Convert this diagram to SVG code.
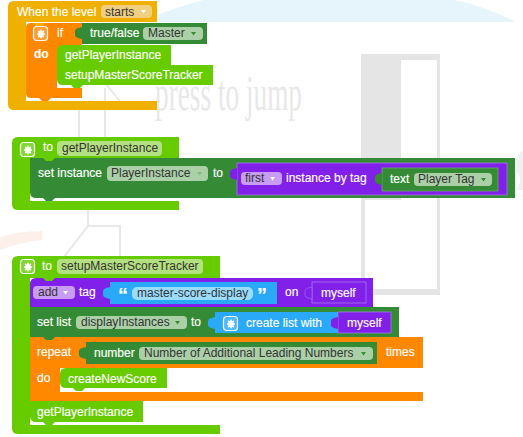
<svg xmlns="http://www.w3.org/2000/svg" width="523" height="437" viewBox="0 0 523 437">
<style>
text{font-family:"Liberation Sans",Arial,sans-serif;font-size:12px;fill:#fff;stroke:#fff;stroke-width:.15}
.d{fill:#333;stroke:none}
.fy{fill:#f0cf80}.fg{fill:#b3e080}.fd{fill:#abd0a8}.fp{fill:#c89cf2}.fb{fill:#99dcff}
.y{fill:#f0b000}.o{fill:#ff8800}.g{fill:#66cc00}.n{fill:#358b35}.p{fill:#8020e8}.b{fill:#29a9f8}
.n2{fill:#358b35;stroke:#6aa86a;stroke-width:.8}.p2{fill:#8020e8;stroke:#a678ea;stroke-width:.8}
.w{fill:#fff}
.q{font-size:20px;font-weight:bold}
.bgl{fill:none;stroke:#e8e8e8;stroke-width:2}
</style>
<defs>
<path id="notch" d="M0 0l3 3h6l3-3z"/>
<path id="tab" d="M0 0l-4 1q-3 1-3 3v4q0 2 3 3l4 1z"/>
<path id="tri" d="M0 0h5l-2.500 3.500z"/>
<g id="gear">
<rect x="-.5" y="-.5" width="14" height="14" rx="3" fill="#fff" fill-opacity=".2" stroke="#fff" stroke-width="1.200"/>
<path d="M6.500 2.500L7.500 2.500L7.900 4.200L9.500 3.500L10.300 4.300L9.400 5.900L11 6.500V7.500L9.400 8.100L10.300 9.700L9.500 10.500L7.900 9.800L7.500 11.500H6.500L6.100 9.800L4.500 10.500L3.700 9.700L4.600 8.100L3 7.500V6.500L4.600 5.900L3.700 4.300L4.500 3.500L6.100 4.200Z" fill="#fff"/>
</g>
</defs>
<g id="background">
<rect width="523" height="437" fill="#fff"/>
<path d="M157 22V15Q180 6 203 0H455Q490 8 515 22Z" fill="#e6f5fb"/>
<path d="M361 54H440V295H361ZM401 60V289H437V60ZM365 200V289H401V200Z" fill="#e5e5e5" fill-rule="evenodd"/>
<path class="bgl" d="M79 100V137M105 88V137M106 84L122 104M88 210V226H120V257M88 226L64 257"/>
<path d="M516 158Q522 150 523 152V190H516Q524 178 516 172Z" fill="#f0f0f0"/>
<path d="M0 237Q20 231 42 231V240Q20 242 0 250Z" fill="#fdf0ea"/>
<text x="155" y="110" style="font-family:'Liberation Serif',serif;font-size:50px;fill:#e8e8e8;stroke:none" textLength="147" lengthAdjust="spacingAndGlyphs">press to jump</text>
</g>
<g id="connectors"></g>
<g id="when-level">
<path class="y" d="M14 1H157V22H26V101H157V110H14Q8 110 8 104V7Q8 1 14 1Z"/>
<rect class="w" x="26" y="88" width="56" height="13"/>
<text x="17" y="16">When the level</text>
<rect class="fy" x="101" y="5" width="51" height="13" rx="4"/>
<text class="d" x="105" y="16">starts</text>
<use href="#tri" x="141" y="10" fill="#fff"/>
</g>
<g id="if-block">
<path class="o" d="M31 23H82V98H31Q26 98 26 93V28Q26 23 31 23Z"/>
<use href="#notch" x="33" y="23" class="y"/>
<use href="#notch" x="39" y="98" class="o"/>
<rect class="w" x="57" y="80" width="25" height="8"/>
<text x="34" y="58" style="font-weight:bold">do</text>
<text x="57" y="37">if</text>
<use href="#gear" x="34" y="27"/>
</g>
<g id="truefalse-master">
<rect class="n" x="82" y="23" width="125" height="21"/>
<use href="#tab" x="82" y="27" class="n"/>
<text x="90" y="37">true/false</text>
<rect class="fd" x="143" y="27" width="60" height="13" rx="4"/>
<text class="d" x="148" y="37">Master</text>
<use href="#tri" x="191" y="32" class="n"/>
</g>
<g id="getPlayerInstance-call">
<path class="g" d="M63 45H171V65H57V51Q57 45 63 45Z"/>
<text x="65" y="59">getPlayerInstance</text>
</g>
<g id="setupMasterScoreTracker-call">
<path class="g" d="M57 65H213V85H63Q57 85 57 79Z"/>
<use href="#notch" x="71" y="85" class="g"/>
<text x="65" y="79">setupMasterScoreTracker</text>
</g>
<g id="to-getPlayerInstance">
<path class="g" d="M18 137H179V158H30V201H179V210H18Q12 210 12 204V143Q12 137 18 137Z"/>
<rect class="w" x="30" y="194" width="40" height="7"/>
<use href="#gear" x="21" y="143"/>
<text x="43" y="151">to</text>
<rect class="fg" x="57" y="141" width="105" height="15" rx="4"/>
<text class="d" x="62" y="152">getPlayerInstance</text>
</g>
<g id="set-instance">
<path class="n" d="M30 158H515V198H36Q30 198 30 192Z"/>
<use href="#notch" x="43" y="158" class="g"/>
<use href="#notch" x="43" y="198" class="n"/>
<text x="38" y="177">set instance</text>
<rect class="fd" x="107" y="166" width="101" height="15" rx="4"/>
<text class="d" x="111" y="177">PlayerInstance</text>
<use href="#tri" x="197" y="172" fill="#7fbf7f"/>
<text x="213" y="177">to</text>
</g>
<g id="first-instance-by-tag">
<rect class="p2" x="237" y="163" width="270" height="32"/>
<use href="#tab" x="237" y="168" class="p"/>
<rect class="fp" x="241" y="172" width="41" height="13" rx="4"/>
<text class="d" x="245" y="182">first</text>
<use href="#tri" x="270" y="177" fill="#fff"/>
<text x="286" y="182">instance by tag</text>
</g>
<g id="text-player-tag">
<rect class="n2" x="382" y="168" width="116" height="23"/>
<use href="#tab" x="382" y="173" class="n"/>
<text x="390" y="183">text</text>
<rect class="fd" x="414" y="173" width="78" height="13" rx="4"/>
<text class="d" x="418" y="183">Player Tag</text>
<use href="#tri" x="481" y="178" class="n"/>
</g>
<g id="to-setupMasterScoreTracker">
<path class="g" d="M18 256H220V278H30V425H220V434H18Q12 434 12 428V262Q12 256 18 256Z"/>
<rect class="w" x="30" y="417" width="40" height="8"/>
<use href="#gear" x="21" y="260"/>
<text x="42" y="270">to</text>
<rect class="fg" x="57" y="259" width="146" height="15" rx="4"/>
<text class="d" x="61" y="270">setupMasterScoreTracker</text>
</g>
<g id="add-tag">
<path class="p" d="M36 278H373V307H30V284Q30 278 36 278Z"/>
<use href="#notch" x="43" y="278" class="g"/>
<use href="#notch" x="43" y="307" class="p"/>
<rect class="fp" x="33" y="286" width="42" height="13" rx="4"/>
<text class="d" x="38" y="296">add</text>
<use href="#tri" x="63" y="291" fill="#fff"/>
<text x="79" y="296">tag</text>
<text x="285" y="296">on</text>
</g>
<g id="master-score-display">
<rect class="b" x="110" y="282" width="167" height="22"/>
<use href="#tab" x="110" y="287" class="b"/>
<text class="q" x="118" y="302">“</text>
<rect class="fb" x="132" y="287" width="121" height="13" rx="5"/>
<text class="d" x="137" y="297">master-score-display</text>
<text class="q" x="257" y="302">”</text>
</g>
<g id="myself-1">
<rect class="p2" x="312" y="282" width="54" height="21"/>
<use href="#tab" x="312" y="287" class="p" stroke="#a678ea" stroke-width=".6"/>
<text x="321" y="297">myself</text>
</g>
<g id="set-list">
<rect class="n" x="30" y="307" width="369" height="30"/>
<use href="#notch" x="43" y="337" class="n"/>
<text x="37" y="326">set list</text>
<rect class="fd" x="76" y="316" width="111" height="13" rx="4"/>
<text class="d" x="81" y="326">displayInstances</text>
<use href="#tri" x="175" y="321" fill="#358b35"/>
<text x="191" y="326">to</text>
</g>
<g id="create-list">
<rect class="b" x="215" y="312" width="124" height="21"/>
<use href="#tab" x="215" y="317" class="b"/>
<use href="#gear" x="224" y="317"/>
<text x="246" y="327">create list with</text>
</g>
<g id="myself-2">
<rect class="p2" x="338" y="312" width="53" height="21"/>
<use href="#tab" x="338" y="317" class="p"/>
<text x="347" y="327">myself</text>
</g>
<g id="repeat">
<path class="o" d="M30 337H423V368H60V392H423V401H30Z"/>
<use href="#notch" x="43" y="337" class="n"/>
<use href="#notch" x="43" y="401" class="o"/>
<text x="37" y="356">repeat</text>
<text x="37" y="382">do</text>
<text x="386" y="356">times</text>
</g>
<g id="number-block">
<rect class="n" x="86" y="342" width="291" height="22"/>
<use href="#tab" x="86" y="347" class="n"/>
<text x="94" y="357">number</text>
<rect class="fd" x="139" y="347" width="234" height="13" rx="4"/>
<text class="d" x="144" y="357">Number of Additional Leading Numbers</text>
<use href="#tri" x="361" y="352" class="n"/>
</g>
<g id="createNewScore-call">
<path class="w" d="M60 385H110V392H60Z"/>
<path class="g" d="M66 368H167V388H66Q60 388 60 382V374Q60 368 66 368Z"/>
<use href="#notch" x="73" y="388" class="g"/>
<text x="68" y="383">createNewScore</text>
</g>
<g id="getPlayerInstance-call-2">
<path class="g" d="M30 401H143V422H36Q30 422 30 416Z"/>
<use href="#notch" x="43" y="422" class="g"/>
<text x="37" y="416">getPlayerInstance</text>
</g>
</svg>
